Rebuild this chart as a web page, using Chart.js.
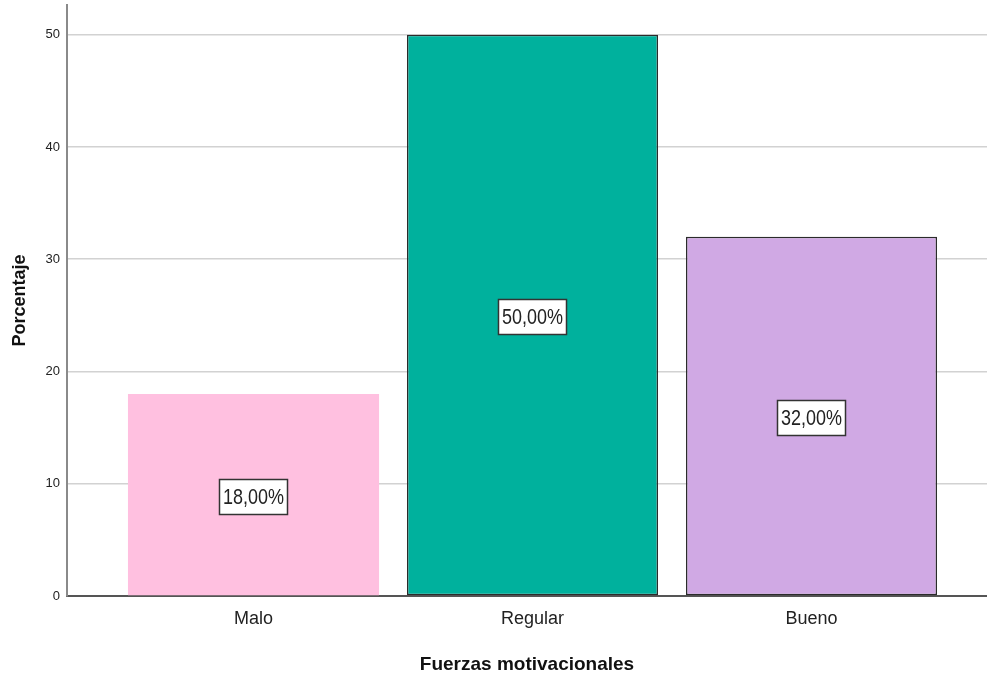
<!DOCTYPE html>
<html>
<head>
<meta charset="utf-8">
<script src="https://cdn.jsdelivr.net/npm/chart.js@4/dist/chart.umd.min.js"></script>
<style>
  html, body { margin: 0; padding: 0; background: #ffffff; }
  #wrap { width: 987px; height: 677px; position: relative; }
</style>
</head>
<body>
<div id="wrap"><canvas id="chart"></canvas></div>
<script>
// Categories and percentages
const categories = ['Malo', 'Regular', 'Bueno'];
const percentages = [18, 50, 32];
const yTicks = [0, 10, 20, 30, 40, 50];

const barColors = ['#FFC0E0', '#00B19D', '#D0A9E4'];
const barBorders = [0, 1.5, 1.5];

const SANS = "'Liberation Sans', Arial, sans-serif";

function pct(v) {
  return v.toFixed(2).replace('.', ',') + '%';
}

// Boxed percentage label drawn at the middle of each bar
const boxedLabels = {
  id: 'boxedLabels',
  afterDatasetsDraw(chart) {
    const ctx = chart.ctx;
    const meta = chart.getDatasetMeta(0);
    const yScale = chart.scales.y;
    ctx.save();
    ctx.font = '18px ' + SANS;
    meta.data.forEach((bar, i) => {
      const v = percentages[i];
      const text = pct(v);
      const cx = bar.x;
      const cy = yScale.getPixelForValue(v / 2) + 2;
      const w = Math.round(ctx.measureText(text).width + 8);
      const h = 36;
      const x0 = Math.round(cx - w / 2);
      const y0 = Math.round(cy - h / 2);
      ctx.fillStyle = '#ffffff';
      ctx.fillRect(x0, y0, w, h);
      ctx.strokeStyle = '#333333';
      ctx.lineWidth = 1.5;
      ctx.strokeRect(x0 + 0.5, y0 + 0.5, w - 1, h - 1);
      ctx.fillStyle = '#222222';
      ctx.textAlign = 'center';
      ctx.textBaseline = 'middle';
      ctx.save();
      ctx.translate(cx, cy + 1);
      ctx.scale(1, 1.2);
      ctx.fillText(text, 0, 0);
      ctx.restore();
    });
    ctx.restore();
  }
};

new Chart(document.getElementById('chart'), {
  type: 'bar',
  data: {
    datasets: [{
      data: percentages.map((v, i) => ({ x: i, y: v })),
      backgroundColor: barColors,
      borderColor: '#2b2b2b',
      borderWidth: barBorders,
      borderSkipped: false,
      barPercentage: 0.9,
      categoryPercentage: 1.0
    }]
  },
  options: {
    responsive: true,
    maintainAspectRatio: false,
    animation: false,
    layout: { padding: { top: 5, right: 0, left: 0, bottom: 0 } },
    plugins: { legend: { display: false }, tooltip: { enabled: false } },
    scales: {
      x: {
        type: 'linear',
        offset: false,
        min: -0.6685,
        max: 2.629,
        afterBuildTicks(scale) {
          scale.ticks = categories.map((c, i) => ({ value: i }));
        },
        afterFit(scale) {
          scale.height = 81;
          scale.paddingLeft = 0;
          scale.paddingRight = 0;
        },
        ticks: {
          callback: (v) => categories[v] !== undefined ? categories[v] : '',
          font: { family: SANS, size: 18 },
          color: '#222222',
          padding: 12,
          maxRotation: 0,
          autoSkip: false
        },
        grid: { display: false, drawTicks: false },
        border: { display: true, color: '#555555', width: 2 },
        title: {
          display: true,
          text: 'Fuerzas motivacionales',
          font: { family: SANS, size: 19, weight: 'bold' },
          color: '#111111',
          padding: { top: 0, bottom: 1 }
        }
      },
      y: {
        min: 0,
        max: 52.65,
        afterBuildTicks(scale) {
          scale.ticks = yTicks.map(v => ({ value: v }));
        },
        afterFit(scale) {
          scale.width = 67;
          scale.paddingTop = 0;
          scale.paddingBottom = 0;
        },
        ticks: {
          font: { family: SANS, size: 13 },
          color: '#222222',
          padding: 7
        },
        grid: {
          drawTicks: false,
          color: (c) => c.tick && c.tick.value === 0 ? 'rgba(0,0,0,0)' : '#d2d2d2',
          lineWidth: 1.5
        },
        border: { display: true, color: '#8a8a8a', width: 2 },
        title: {
          display: true,
          text: 'Porcentaje',
          font: { family: SANS, size: 18, weight: 'bold' },
          color: '#111111',
          padding: { top: 9, bottom: 0 }
        }
      }
    }
  },
  plugins: [boxedLabels]
});
</script>
</body>
</html>
